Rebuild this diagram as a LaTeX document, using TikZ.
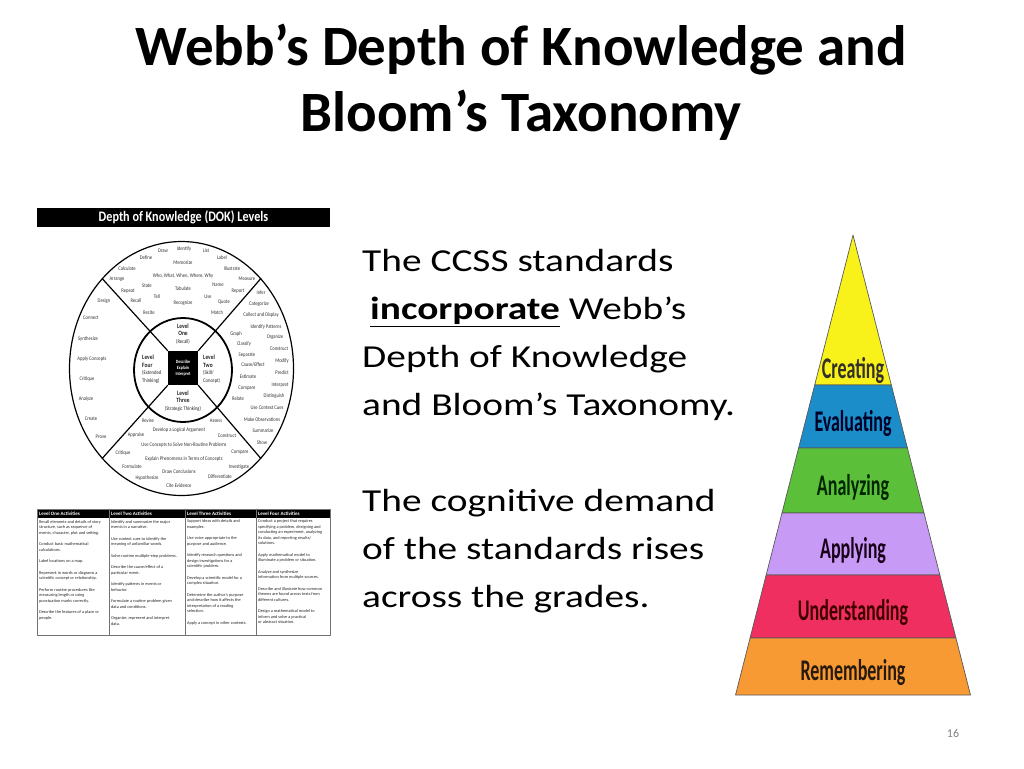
\documentclass[tikz,border=0pt]{standalone}
\usepackage{fontspec}
\setmainfont{Carlito}
\newfontfamily\bodyfont{Carlito}[FakeStretch=1.23]
\newfontfamily\narrowfont{Carlito}[FakeStretch=0.6]
\newfontfamily\wheelfont{Carlito}[FakeStretch=0.84]
\usetikzlibrary{calc}
\definecolor{pyryellow}{HTML}{F8F21A}
\definecolor{pyrblue}{HTML}{1B8DC9}
\definecolor{pyrgreen}{HTML}{5BBF3A}
\definecolor{pyrpurple}{HTML}{C79AF5}
\definecolor{pyrred}{HTML}{EF2F5F}
\definecolor{pyrorange}{HTML}{F89A34}

\begin{document}
\begin{tikzpicture}[x=1pt, y=-1pt, line join=round, line cap=round]
        \useasboundingbox[fill=white] (0,0) rectangle (1024,768);
        \tikzset{word/.style={font=\wheelfont\fontsize{5.5}{7}\selectfont, text=black!80, inner sep=0pt}}
        \tikzset{level/.style={font=\wheelfont\fontsize{6.5}{7.5}\selectfont, text=black!85, inner sep=0pt}}
        \tikzset{cell/.style={font=\fontsize{4.3}{5.5}\selectfont, text=black!85, align=left, anchor=north west, inner sep=0pt}}
        \tikzset{colhead/.style={font=\bfseries\fontsize{5}{6}\selectfont, text=white, anchor=west, inner sep=0pt}}
        \tikzset{band/.style={draw=black!65, line width=0.7pt}}
        % title and text
        \node[font=\bfseries\fontsize{57}{66}\selectfont, anchor=base] (title1) at (521,65) {Webb’s Depth of Knowledge and};
        \node[font=\bfseries\fontsize{57}{66}\selectfont, anchor=base] (title2) at (521,131) {Bloom’s Taxonomy};
        \node[font=\bodyfont\fontsize{32}{48}\selectfont, align=left, anchor=north west, inner sep=0pt] (body) at (362,249)
            {The CCSS standards\\ \hspace*{8pt}\underline{\textbf{incorporate}} Webb’s\\ Depth of Knowledge\\
             and Bloom’s Taxonomy.\\[48pt] The cognitive demand\\ of the standards rises\\ across the grades.};
        \node[font=\fontsize{12}{14}\selectfont, text=black!50] (pagenum) at (953,733) {16};
        % DOK wheel
        \begin{scope}
            \fill[black] (37,208) rectangle (330,227);
            \node[font=\wheelfont\bfseries\fontsize{14.5}{16}\selectfont, text=white] (dokhead) at (183.5,217.5) {Depth of Knowledge (DOK) Levels};
            \coordinate (wc) at (181.5,368.5);
            \coordinate (ic) at (183,370);
            \draw[line width=1.2pt] (wc) ellipse [x radius=112pt, y radius=127pt];
            \draw[line width=1.8pt] (ic) ellipse [x radius=49pt, y radius=52pt];
            \node[fill=black, minimum width=30pt, minimum height=34pt, inner sep=0pt] (core) at (183,368) {};
            \foreach \a/\c in {45/north east, 135/north west, 225/south west, 315/south east} {
                \draw[line width=1.2pt] ($(wc)+(\a:112pt and 127pt)$) -- (core.\c);
            }
            \node[font=\wheelfont\bfseries\fontsize{4.8}{6}\selectfont, text=white, align=center, inner sep=0pt] (coretxt) at (core) {Describe\\Explain\\Interpret};
            \node[level, align=center] (lvlone) at (183,334) {\textbf{Level}\\\textbf{One}\\{\fontsize{5.5}{7.5}\selectfont(Recall)}};
            \node[level, align=left, anchor=west] (lvlfour) at (142,369) {\textbf{Level}\\\textbf{Four}\\{\fontsize{5.5}{7.5}\selectfont(Extended}\\{\fontsize{5.5}{7.5}\selectfont Thinking)}};
            \node[level, align=left, anchor=west] (lvltwo) at (203,369) {\textbf{Level}\\\textbf{Two}\\{\fontsize{5.5}{7.5}\selectfont(Skill/}\\{\fontsize{5.5}{7.5}\selectfont Concept)}};
            \node[level, align=center] (lvlthree) at (183,401) {\textbf{Level}\\\textbf{Three}\\{\fontsize{5.5}{7.5}\selectfont(Strategic Thinking)}};
            \foreach \x/\y/\w [count=\i] in {163/251/Draw, 184/249/Identify, 206/251/List, 146/258/Define, 222/258/Label,
                    183/263/Memorize, 127/269/Calculate, 232/269/Illustrate, 183/276/{Who, What, When, Where, Why},
                    117/279/Arrange, 247/279/Measure, 147/286/State, 218/285/Name, 128/291/Repeat, 183/289/Tabulate,
                    238/291/Report, 157/297/Tell, 208/297/Use, 136/301/Recall, 183/303/Recognize, 224/302/Quote,
                    149/313/Recite, 217/313/Match} {
                \node[word] (top\i) at (\x,\y) {\w};
            }
            \foreach \x/\y/\w [count=\i] in {261/293/Infer, 259/304/Categorize, 261/315/Collect and Display,
                    266/327/Identify Patterns, 236/334/Graph, 275/337/Organize, 244/344/Classify, 279/349/Construct,
                    247/355/Separate, 282/361/Modify, 253/365/{Cause/Effect}, 282/373/Predict, 248/377/Estimate,
                    280/385/Interpret, 247/388/Compare, 274/396/Distinguish, 238/399/Relate, 267/408/Use Context Cues,
                    262/420/Make Observations, 263/431/Summarize, 262/443/Show} {
                \node[word] (right\i) at (\x,\y) {\w};
            }
            \foreach \x/\y/\w [count=\i] in {104/301/Design, 91/318/Connect, 88/339/Synthesize, 92/359/Apply Concepts,
                    87/379/Critique, 86/399/Analyze, 91/419/Create, 101/437/Prove} {
                \node[word] (left\i) at (\x,\y) {\w};
            }
            \foreach \x/\y/\w [count=\i] in {148/421/Revise, 216/421/Assess, 179/430/Develop a Logical Argument,
                    136/435/Appraise, 227/436/Construct, 184/445/Use Concepts to Solve Non-Routine Problems,
                    123/453/Critique, 240/452/Compare, 184/459/Explain Phenomena in Terms of Concepts,
                    132/467/Formulate, 239/467/Investigate, 179/472/Draw Conclusions, 147/478/Hypothesize,
                    220/477/Differentiate, 179/486/Cite Evidence} {
                \node[word] (bottom\i) at (\x,\y) {\w};
            }
        \end{scope}
        % activities table
        \begin{scope}
            \fill[black] (37,509) rectangle (330,517.5);
            \draw[black!55, line width=0.6pt] (37,509) rectangle (330,635);
            \foreach \x in {109, 185, 256} {
                \draw[black!55, line width=0.6pt] (\x,509) -- (\x,635);
            }
            \node[colhead] (head1) at (39,513.3) {Level One Activities};
            \node[colhead] (head2) at (111,513.3) {Level Two Activities};
            \node[colhead] (head3) at (187,513.3) {Level Three Activities};
            \node[colhead] (head4) at (258,513.3) {Level Four Activities};
            \node[cell] (col1) at (39,520) {Recall elements and details of story\\ structure, such as sequence of\\
                events, character, plot and setting.\\[6pt] Conduct basic mathematical\\ calculations.\\[6pt]
                Label locations on a map.\\[6pt] Represent in words or diagrams a\\ scientific concept or relationship.\\[6pt]
                Perform routine procedures like\\ measuring length or using\\ punctuation marks correctly.\\[6pt]
                Describe the features of a place or\\ people.};
            \node[cell] (col2) at (111,520) {Identify and summarize the major\\ events in a narrative.\\[6pt]
                Use context cues to identify the\\ meaning of unfamiliar words.\\[6pt] Solve routine multiple-step problems.\\[6pt]
                Describe the cause/effect of a\\ particular event.\\[6pt] Identify patterns in events or\\ behavior.\\[6pt]
                Formulate a routine problem given\\ data and conditions.\\[6pt] Organize, represent and interpret\\ data.};
            \node[cell] (col3) at (187,519.5) {Support ideas with details and\\ examples.\\[6pt] Use voice appropriate to the\\
                purpose and audience.\\[6pt] Identify research questions and\\ design investigations for a\\ scientific problem.\\[6pt]
                Develop a scientific model for a\\ complex situation.\\[6pt] Determine the author’s purpose\\
                and describe how it affects the\\ interpretation of a reading\\ selection.\\[6pt] Apply a concept in other contexts.};
            \node[cell] (col4) at (258,519.5) {Conduct a project that requires\\ specifying a problem, designing and\\
                conducting an experiment, analyzing\\ its data, and reporting results/\\ solutions.\\[6pt]
                Apply mathematical model to\\ illuminate a problem or situation.\\[6pt] Analyze and synthesize\\
                information from multiple sources.\\[6pt] Describe and illustrate how common\\ themes are found across texts from\\
                different cultures.\\[6pt] Design a mathematical model to\\ inform and solve a practical\\ or abstract situation.};
        \end{scope}
        % Bloom pyramid
        \begin{scope}
            \pgfmathsetmacro{\pslope}{0.2554}
            \foreach \ya/\yb/\col/\tcol/\lab/\base [count=\i] in {
                    235/385/pyryellow/black!85!olive/Creating/378,
                    385/448/pyrblue/black!85!blue/Evaluating/431,
                    448/513/pyrgreen/black!85!green/Analyzing/495,
                    513/575/pyrpurple/black!80!violet/Applying/558,
                    575/638/pyrred/black!75!red/Understanding/620,
                    638/695/pyrorange/black!80!brown/Remembering/680} {
                \filldraw[band, fill=\col] ({853-\pslope*(\ya-235)},\ya) -- ({853+\pslope*(\ya-235)},\ya)
                    -- ({853+\pslope*(\yb-235)},\yb) -- ({853-\pslope*(\yb-235)},\yb) -- cycle;
                \node[font=\narrowfont\bfseries\fontsize{30}{32}\selectfont, text=\tcol, anchor=base, inner sep=0pt] (band\i) at (853,\base) {\lab};
            }
        \end{scope}
    \end{tikzpicture}
\end{document}
